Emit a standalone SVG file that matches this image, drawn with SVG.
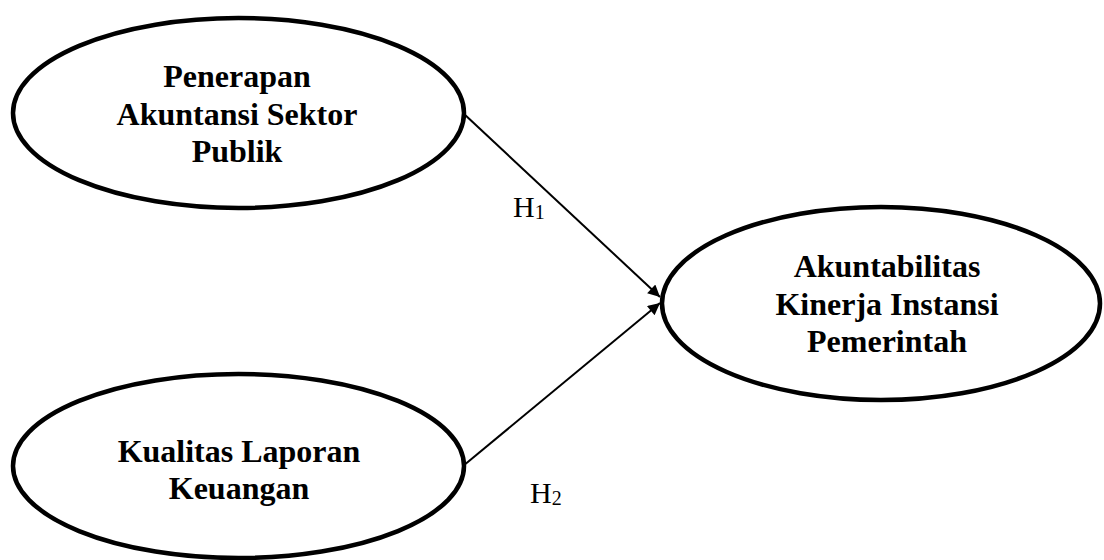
<svg xmlns="http://www.w3.org/2000/svg" width="1104" height="560" viewBox="0 0 1104 560">
<style>
.node ellipse{fill:#fff;stroke:#000;stroke-width:4.5}
.lbl{font-family:"Liberation Serif","Times New Roman",serif;font-weight:bold;font-size:32px;fill:#000;text-anchor:middle}
.hyp{font-family:"Liberation Serif","Times New Roman",serif;font-size:30px;fill:#000}
.conn line{stroke:#000;stroke-width:2}
</style>
<defs>
<marker id="arr" viewBox="0 0 10 10" refX="10" refY="5" markerWidth="16" markerHeight="12" markerUnits="userSpaceOnUse" orient="auto">
<path d="M0,0 L10,5 L0,10 z" fill="#000"/>
</marker>
</defs>
<g id="connectors" class="conn">
<line x1="463" y1="113" x2="660" y2="297" marker-end="url(#arr)"/>
<line x1="463" y1="466" x2="660" y2="303" marker-end="url(#arr)"/>
</g>
<g id="node-asp" class="node">
<ellipse cx="238.5" cy="113" rx="225.5" ry="95"/>
<text class="lbl" x="237" y="87">Penerapan</text>
<text class="lbl" x="237" y="125">Akuntansi Sektor</text>
<text class="lbl" x="237" y="162">Publik</text>
</g>
<g id="node-klk" class="node">
<ellipse cx="238.5" cy="466" rx="225.5" ry="92"/>
<text class="lbl" x="239" y="462">Kualitas Laporan</text>
<text class="lbl" x="239" y="499">Keuangan</text>
</g>
<g id="node-akip" class="node">
<ellipse cx="881" cy="303.5" rx="219" ry="96.5"/>
<text class="lbl" x="887" y="277">Akuntabilitas</text>
<text class="lbl" x="887" y="315">Kinerja Instansi</text>
<text class="lbl" x="887" y="352">Pemerintah</text>
</g>
<g id="labels">
<text class="hyp" x="513" y="217">H<tspan font-size="20" dy="2">1</tspan></text>
<text class="hyp" x="530" y="503">H<tspan font-size="20" dy="2">2</tspan></text>
</g>
</svg>
